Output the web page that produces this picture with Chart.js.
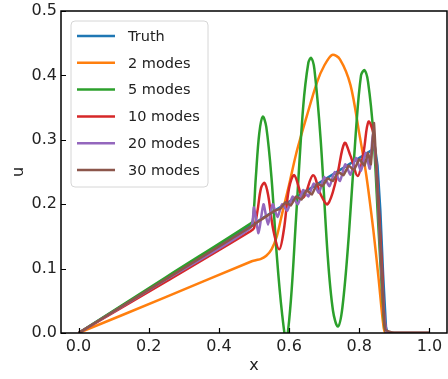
<!DOCTYPE html>
<html>
<head>
<meta charset="utf-8">
<script src="https://cdn.jsdelivr.net/npm/chart.js@4.4.1/dist/chart.umd.min.js"></script>
<style>
  html, body { margin: 0; padding: 0; background: #fff; }
  #wrap { width: 448px; height: 379px; }
</style>
</head>
<body>
<div id="wrap"><canvas id="chart"></canvas></div>
<script>
// tick labels
const xTicks = [0.0, 0.2, 0.4, 0.6, 0.8, 1.0];
const yTicks = [0.0, 0.1, 0.2, 0.3, 0.4, 0.5];

// series (x positions and u values)
const truthX = [0, 0.25, 0.5, 0.845, 0.852, 0.86, 0.868, 0.876, 0.88, 1.0];
const truthU = [0, 0.085, 0.17, 0.287, 0.26, 0.19, 0.09, 0.01, 0, 0];

const modes2X = [0, 0.25, 0.492, 0.505, 0.52, 0.535, 0.55, 0.565, 0.58, 0.6, 0.62, 0.65, 0.68, 0.70, 0.723, 0.745, 0.775, 0.80, 0.82, 0.84, 0.855, 0.868, 0.875, 0.9, 1.0];
const modes2U = [0, 0.056, 0.111, 0.113, 0.115, 0.12, 0.13, 0.15, 0.185, 0.23, 0.278, 0.336, 0.39, 0.415, 0.432, 0.425, 0.385, 0.31, 0.245, 0.16, 0.085, 0.015, 0, 0, 0];

const modes5X = [0, 0.25, 0.49, 0.497, 0.505, 0.515, 0.525, 0.535, 0.55, 0.565, 0.58, 0.592, 0.605, 0.62, 0.64, 0.655, 0.663, 0.672, 0.69, 0.71, 0.725, 0.739, 0.752, 0.77, 0.79, 0.805, 0.815, 0.825, 0.84, 0.855, 0.868, 0.877, 0.9, 1.0];
const modes5U = [0, 0.087, 0.17, 0.175, 0.24, 0.31, 0.336, 0.32, 0.24, 0.12, 0.03, -0.01, 0.05, 0.18, 0.35, 0.42, 0.427, 0.41, 0.3, 0.12, 0.035, 0.01, 0.04, 0.15, 0.31, 0.4, 0.408, 0.39, 0.31, 0.16, 0.04, 0, 0, 0];

const modes10X = [0, 0.25, 0.49, 0.5, 0.51, 0.52, 0.53, 0.54, 0.555, 0.572, 0.585, 0.6, 0.615, 0.64, 0.668, 0.69, 0.71, 0.735, 0.758, 0.775, 0.796, 0.812, 0.826, 0.84, 0.853, 0.865, 0.877, 0.9, 1.0];
const modes10U = [0, 0.08, 0.158, 0.163, 0.19, 0.225, 0.233, 0.215, 0.16, 0.13, 0.16, 0.225, 0.245, 0.21, 0.245, 0.215, 0.2, 0.24, 0.295, 0.275, 0.244, 0.28, 0.328, 0.31, 0.22, 0.1, 0, 0, 0];

const modes20X = [0, 0.25, 0.49, 0.5, 0.513, 0.527, 0.54, 0.553, 0.567, 0.58, 0.595, 0.61, 0.625, 0.64, 0.655, 0.67, 0.685, 0.7, 0.715, 0.73, 0.745, 0.76, 0.775, 0.79, 0.805, 0.818, 0.83, 0.839, 0.848, 0.858, 0.868, 0.878, 0.9, 1.0];
const modes20U = [0, 0.083, 0.163, 0.195, 0.155, 0.2, 0.168, 0.2, 0.18, 0.2, 0.19, 0.212, 0.2, 0.222, 0.212, 0.232, 0.218, 0.242, 0.228, 0.25, 0.236, 0.262, 0.246, 0.272, 0.252, 0.28, 0.255, 0.31, 0.26, 0.15, 0.05, 0, 0, 0];

const modes30X = [0, 0.25, 0.5, 0.52, 0.54, 0.56, 0.575, 0.59, 0.605, 0.62, 0.635, 0.65, 0.665, 0.68, 0.695, 0.71, 0.725, 0.74, 0.755, 0.77, 0.785, 0.8, 0.815, 0.825, 0.833, 0.842, 0.85, 0.858, 0.866, 0.874, 0.9, 1.0];
const modes30U = [0, 0.084, 0.168, 0.176, 0.183, 0.19, 0.193, 0.203, 0.198, 0.212, 0.207, 0.222, 0.215, 0.232, 0.228, 0.24, 0.236, 0.25, 0.245, 0.26, 0.253, 0.27, 0.26, 0.28, 0.262, 0.326, 0.24, 0.16, 0.07, 0.005, 0, 0];

const labels = ['Truth', '2 modes', '5 modes', '10 modes', '20 modes', '30 modes'];
const colors = ['#1f77b4', '#ff7f0e', '#2ca02c', '#d62728', '#9467bd', '#8c564b'];
const seriesX = [truthX, modes2X, modes5X, modes10X, modes20X, modes30X];
const seriesU = [truthU, modes2U, modes5U, modes10U, modes20U, modes30U];
const tensions = [0, 0.3, 0.35, 0.35, 0.2, 0.1];

const FONT = "'DejaVu Sans', sans-serif";

// box around the plot + inward ticks on bottom and left
const frameAndTicks = {
  id: 'frameAndTicks',
  afterDatasetsDraw(chart) {
    const { ctx, chartArea: a, scales } = chart;
    ctx.save();
    ctx.strokeStyle = '#000';
    ctx.lineWidth = 1.2;
    ctx.beginPath();
    scales.x.ticks.forEach(t => {
      const px = Math.round(scales.x.getPixelForValue(t.value)) + 0.5;
      ctx.moveTo(px, a.bottom);
      ctx.lineTo(px, a.bottom - 5);
    });
    scales.y.ticks.forEach(t => {
      const py = Math.round(scales.y.getPixelForValue(t.value)) + 0.5;
      ctx.moveTo(a.left, py);
      ctx.lineTo(a.left + 5, py);
    });
    ctx.stroke();
    ctx.lineWidth = 1.5;
    ctx.strokeRect(a.left, a.top, a.right - a.left, a.bottom - a.top);
    ctx.restore();
  }
};

// legend drawn inside the plot, upper left
const innerLegend = {
  id: 'innerLegend',
  afterDraw(chart) {
    const { ctx, chartArea: a } = chart;
    const x0 = a.left + 10, y0 = a.top + 10, w = 137, h = 166, r = 4;
    ctx.save();
    ctx.beginPath();
    ctx.roundRect(x0, y0, w, h, r);
    ctx.fillStyle = 'rgba(255,255,255,0.8)';
    ctx.fill();
    ctx.strokeStyle = '#d6d6d6';
    ctx.lineWidth = 1;
    ctx.stroke();
    ctx.font = '14.5px ' + FONT;
    ctx.textBaseline = 'middle';
    chart.data.datasets.forEach((ds, i) => {
      const cy = y0 + 15 + i * 26.8;
      ctx.strokeStyle = ds.borderColor;
      ctx.lineWidth = 2.5;
      ctx.beginPath();
      ctx.moveTo(x0 + 6, cy);
      ctx.lineTo(x0 + 44, cy);
      ctx.stroke();
      ctx.fillStyle = '#222';
      ctx.fillText(ds.label, x0 + 57, cy + 1);
    });
    ctx.restore();
  }
};

const ctx = document.getElementById('chart').getContext('2d');
new Chart(ctx, {
  type: 'line',
  data: {
    datasets: labels.map((name, i) => ({
      label: name,
      data: seriesX[i].map((x, k) => ({ x: x, y: seriesU[i][k] })),
      borderColor: colors[i],
      backgroundColor: colors[i],
      borderWidth: 2.5,
      pointRadius: 0,
      tension: tensions[i],
      fill: false,
      order: labels.length - i
    }))
  },
  options: {
    responsive: true,
    maintainAspectRatio: false,
    animation: false,
    layout: { padding: { top: 11, right: 1, left: 0, bottom: 0 } },
    plugins: {
      legend: { display: false },
      tooltip: { enabled: false }
    },
    scales: {
      x: {
        type: 'linear',
        min: -0.05,
        max: 1.05,
        afterBuildTicks: scale => { scale.ticks = xTicks.map(v => ({ value: v })); },
        afterFit: scale => { scale.height = 46; scale.paddingLeft = 0; scale.paddingRight = 0; },
        grid: { display: false, drawTicks: false },
        border: { display: false },
        ticks: {
          padding: 4,
          color: '#222',
          font: { family: FONT, size: 16 },
          callback: v => v.toFixed(1)
        },
        title: {
          display: true,
          text: 'x',
          color: '#222',
          font: { family: FONT, size: 16 },
          padding: { top: 0, bottom: 4 }
        }
      },
      y: {
        type: 'linear',
        min: 0,
        max: 0.5,
        afterBuildTicks: scale => { scale.ticks = yTicks.map(v => ({ value: v })); },
        afterFit: scale => { scale.width = 61; scale.paddingTop = 0; scale.paddingBottom = 0; },
        grid: { display: false, drawTicks: false },
        border: { display: false },
        ticks: {
          padding: 4,
          color: '#222',
          font: { family: FONT, size: 16 },
          callback: v => v.toFixed(1)
        },
        title: {
          display: true,
          text: 'u',
          color: '#222',
          font: { family: FONT, size: 16 },
          padding: { top: 9, bottom: 0 }
        }
      }
    }
  },
  plugins: [frameAndTicks, innerLegend]
});
</script>
</body>
</html>
